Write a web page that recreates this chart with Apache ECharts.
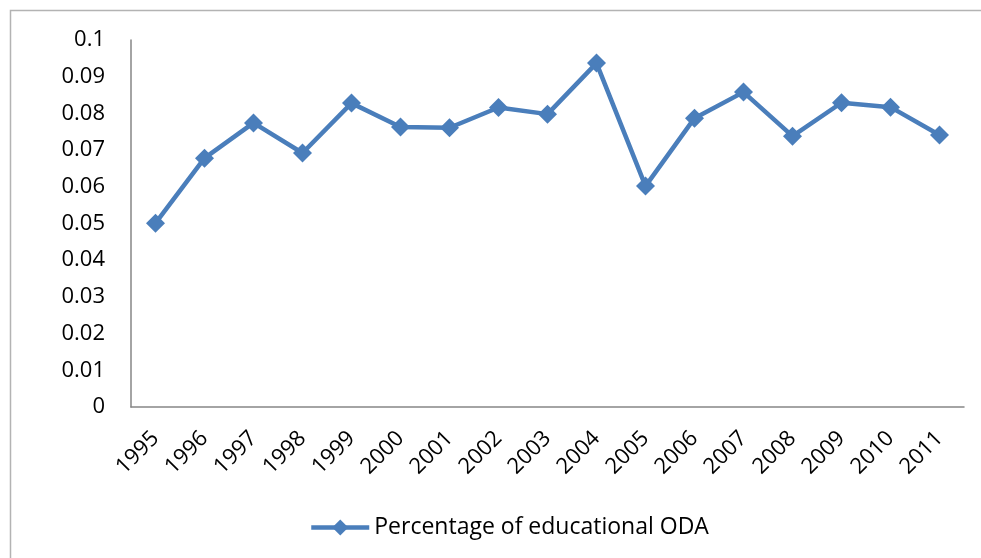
<!DOCTYPE html>
<html><head><meta charset="utf-8">
<script src="https://cdn.jsdelivr.net/npm/echarts@6/dist/echarts.min.js"></script>
<style>html,body{margin:0;padding:0;background:#fff}#c{width:981px;height:558px}</style>
</head><body><div id="c"></div>
<script>
const years = ['1995','1996','1997','1998','1999','2000','2001','2002','2003','2004','2005','2006','2007','2008','2009','2010','2011'];
const oda = [0.0501,0.0678,0.0774,0.0692,0.0828,0.0763,0.0761,0.0816,0.0798,0.0937,0.0602,0.0787,0.0858,0.0738,0.0829,0.0817,0.0741];
const seriesName = 'Percentage of educational ODA';
const font = "'Open Sans', 'Liberation Sans', sans-serif";
const chart = echarts.init(document.getElementById('c'));
chart.setOption({
  animation: false,
  graphic: [{type:'rect', shape:{x:10.5,y:10.5,width:990,height:570}, style:{fill:'none', stroke:'#b3b3b3', lineWidth:1.5}}],
  grid: {left:131, top:40, right:17, bottom:151},
  legend: {bottom:14, left:304, itemWidth:58, itemHeight:20, itemGap:4,
    lineStyle:{width:4.5},
    textStyle:{fontFamily:font, fontSize:23, color:'#000'},
    data:[{name:seriesName}]},
  xAxis: {type:'category', data:years, boundaryGap:true,
    axisLine:{lineStyle:{color:'#868686', width:1.5}},
    axisTick:{show:false},
    axisLabel:{rotate:45, fontFamily:font, fontSize:22, color:'#000', margin:28, interval:0}},
  yAxis: {type:'value', min:0, max:0.1, interval:0.01,
    axisLine:{show:true, lineStyle:{color:'#868686', width:1.5}},
    axisTick:{show:false}, splitLine:{show:false},
    axisLabel:{fontFamily:font, fontSize:22, color:'#000', margin:26,
      formatter: v => (Math.round(v*100)/100).toString()}},
  series: [{name:seriesName, type:'line', data:oda, symbol:'diamond', symbolSize:19,
    itemStyle:{color:'#4A7EBB'}, lineStyle:{color:'#4A7EBB', width:4.5}}]
});
</script></body></html>
